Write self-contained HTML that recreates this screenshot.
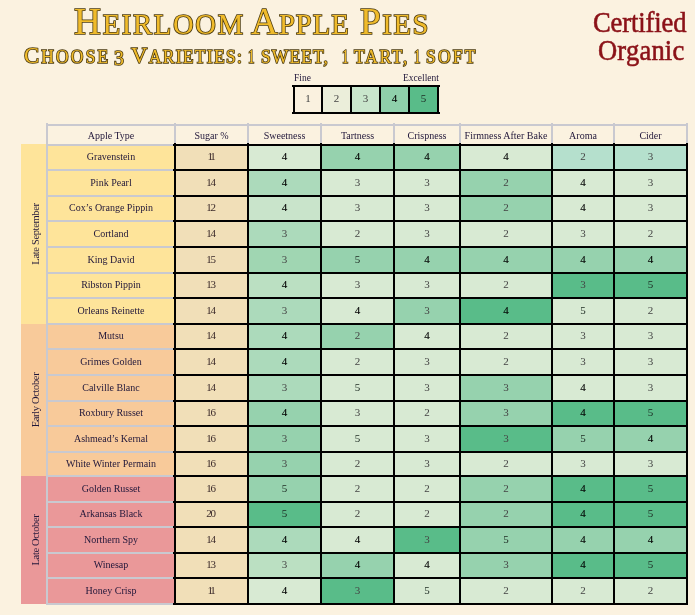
<!DOCTYPE html>
<html lang="en"><head><meta charset="utf-8"><title>Heirloom Apple Pies</title>
<style>
html,body{margin:0;padding:0}
body{width:695px;height:615px;overflow:hidden;background:#fbf2e0;position:relative;font-family:"Liberation Serif",serif;color:#21173a}
div,span{position:absolute;box-sizing:border-box}
.tt{white-space:nowrap;color:#f0bb2b;-webkit-text-stroke:1.6px #4a3a10;paint-order:stroke fill;line-height:40px;transform:scaleX(.97);transform-origin:0 0}
.tt span{position:static}
.co{color:#8b1218;white-space:nowrap;font-size:29.5px;line-height:40px;-webkit-text-stroke:.6px #8b1218;transform:scaleX(.9);transform-origin:0 0}
.lg{font-size:9.5px;line-height:10px;white-space:nowrap}
.c{display:flex;align-items:center;justify-content:center;font-size:10px;line-height:12px;white-space:nowrap;padding-bottom:1px}
.hd{padding-bottom:0;padding-top:2px}
.d{font-size:11px;padding-bottom:3px}
.n{color:#444}
.k{color:#000;-webkit-text-stroke:.1px #000}
.f{color:#1c2a22}
.s{color:#3b2a2a;letter-spacing:-1.2px;padding-right:2px}
.s1{letter-spacing:-2.2px}
.v{background:#000;width:2px}
.h{background:#000;height:2px}
.gv{background:#c9c9d0;width:2px}
.gh{background:#c9c9d0;height:2px}
.gl{display:flex;align-items:center;justify-content:center;white-space:nowrap;font-size:10.5px;line-height:12px;letter-spacing:-.35px;padding-left:4px}
.gl span{position:static;display:block;transform:rotate(-90deg)}

</style></head><body>
<div class="tt" style="left:74.4px;top:1.0px;font-size:29.5px;letter-spacing:1.73px"><span style="font-size:38.5px">H</span>EIRLOOM</div>
<div class="tt" style="left:250.5px;top:1.0px;font-size:29.5px;letter-spacing:1.0px"><span style="font-size:38.5px">A</span>PPLE</div>
<div class="tt" style="left:359.5px;top:1.0px;font-size:29.5px;letter-spacing:1.6px"><span style="font-size:38.5px">P</span>IES</div>
<div class="tt" style="left:23.5px;top:35.0px;font-size:18.0px;letter-spacing:2.24px"><span style="font-size:23.4px">C</span>HOOSE</div>
<div class="tt" style="left:114.4px;top:38.4px;font-size:20.5px">3</div>
<div class="tt" style="left:131.0px;top:35.0px;font-size:18.0px;letter-spacing:1.38px"><span style="font-size:23.4px">V</span>ARIETIES:</div>
<div class="tt" style="left:248.4px;top:37.0px;font-size:18.0px;transform:scaleX(0.72)">1</div>
<div class="tt" style="left:261.4px;top:37.0px;font-size:18.0px;letter-spacing:1.18px">SWEET,</div>
<div class="tt" style="left:341.6px;top:37.0px;font-size:18.0px;transform:scaleX(0.72)">1</div>
<div class="tt" style="left:354.1px;top:37.0px;font-size:18.0px;letter-spacing:1.85px">TART,</div>
<div class="tt" style="left:414.3px;top:37.0px;font-size:18.0px;transform:scaleX(0.72)">1</div>
<div class="tt" style="left:425.8px;top:37.0px;font-size:18.0px;letter-spacing:2.33px">SOFT</div>
<div class="co" id="co1" style="left:593.0px;top:2.3px;letter-spacing:-0.11px">Certified</div>
<div class="co" id="co2" style="left:597.5px;top:30.4px;letter-spacing:0.22px">Organic</div>
<div class="lg" id="lgf" style="left:294px;top:73px">Fine</div>
<div class="lg" id="lge" style="left:403px;top:73px">Excellent</div>
<div class="c d n" style="left:294px;top:86px;width:28px;height:27px;background:#faf1df">1</div>
<div class="c d n" style="left:322px;top:86px;width:29px;height:27px;background:#ebeeda">2</div>
<div class="c d n" style="left:351px;top:86px;width:29px;height:27px;background:#c9e6cc">3</div>
<div class="c d k" style="left:380px;top:86px;width:29px;height:27px;background:#8fd0ab">4</div>
<div class="c d f" style="left:409px;top:86px;width:29px;height:27px;background:#59bc89">5</div>
<div class="v" style="left:293px;top:85px;height:29px"></div>
<div class="v" style="left:321px;top:85px;height:29px"></div>
<div class="v" style="left:350px;top:85px;height:29px"></div>
<div class="v" style="left:379px;top:85px;height:29px"></div>
<div class="v" style="left:408px;top:85px;height:29px"></div>
<div class="v" style="left:437px;top:85px;height:29px"></div>
<div class="h" style="left:292px;top:85px;width:148px"></div>
<div class="h" style="left:292px;top:112px;width:148px"></div>
<div class="gl" style="left:21px;top:144px;width:26px;height:180px;background:#fee49a"><span>Late September</span></div>
<div class="gl" style="left:21px;top:324px;width:26px;height:152px;background:#f8ca9a"><span>Early October</span></div>
<div class="gl" style="left:21px;top:476px;width:26px;height:128px;background:#ea9899"><span>Late October</span></div>
<div class="c hd" style="left:48px;top:126px;width:126px;height:18px">Apple Type</div>
<div class="c hd" style="left:176px;top:126px;width:71px;height:18px">Sugar %</div>
<div class="c hd" style="left:249px;top:126px;width:71px;height:18px">Sweetness</div>
<div class="c hd" style="left:322px;top:126px;width:71px;height:18px">Tartness</div>
<div class="c hd" style="left:395px;top:126px;width:64px;height:18px">Crispness</div>
<div class="c hd" style="left:461px;top:126px;width:90px;height:18px">Firmness After Bake</div>
<div class="c hd" style="left:553px;top:126px;width:60px;height:18px">Aroma</div>
<div class="c hd" style="left:615px;top:126px;width:71px;height:18px">Cider</div>
<div class="c" style="left:47px;top:145px;width:128px;height:25px;background:#fee49a">Gravenstein</div>
<div class="c d s s1" style="left:175px;top:145px;width:73px;height:25px;background:#f1dfb8">11</div>
<div class="c d k" style="left:248px;top:145px;width:73px;height:25px;background:#d8ead3">4</div>
<div class="c d k" style="left:321px;top:145px;width:73px;height:25px;background:#96d2ae">4</div>
<div class="c d k" style="left:394px;top:145px;width:66px;height:25px;background:#96d2ae">4</div>
<div class="c d k" style="left:460px;top:145px;width:92px;height:25px;background:#d8ead3">4</div>
<div class="c d n" style="left:552px;top:145px;width:62px;height:25px;background:#b5e0cd">2</div>
<div class="c d n" style="left:614px;top:145px;width:73px;height:25px;background:#b5e0cd">3</div>
<div class="c" style="left:47px;top:170px;width:128px;height:26px;background:#fee49a">Pink Pearl</div>
<div class="c d s" style="left:175px;top:170px;width:73px;height:26px;background:#f1dfb8">14</div>
<div class="c d k" style="left:248px;top:170px;width:73px;height:26px;background:#acdabb">4</div>
<div class="c d n" style="left:321px;top:170px;width:73px;height:26px;background:#d8ead3">3</div>
<div class="c d n" style="left:394px;top:170px;width:66px;height:26px;background:#d8ead3">3</div>
<div class="c d n" style="left:460px;top:170px;width:92px;height:26px;background:#96d2ae">2</div>
<div class="c d k" style="left:552px;top:170px;width:62px;height:26px;background:#d8ead3">4</div>
<div class="c d n" style="left:614px;top:170px;width:73px;height:26px;background:#d8ead3">3</div>
<div class="c" style="left:47px;top:196px;width:128px;height:25px;background:#fee49a">Cox’s Orange Pippin</div>
<div class="c d s" style="left:175px;top:196px;width:73px;height:25px;background:#f1dfb8">12</div>
<div class="c d k" style="left:248px;top:196px;width:73px;height:25px;background:#c9e4cb">4</div>
<div class="c d n" style="left:321px;top:196px;width:73px;height:25px;background:#d8ead3">3</div>
<div class="c d n" style="left:394px;top:196px;width:66px;height:25px;background:#d8ead3">3</div>
<div class="c d n" style="left:460px;top:196px;width:92px;height:25px;background:#96d2ae">2</div>
<div class="c d k" style="left:552px;top:196px;width:62px;height:25px;background:#d8ead3">4</div>
<div class="c d n" style="left:614px;top:196px;width:73px;height:25px;background:#d8ead3">3</div>
<div class="c" style="left:47px;top:221px;width:128px;height:26px;background:#fee49a">Cortland</div>
<div class="c d s" style="left:175px;top:221px;width:73px;height:26px;background:#f1dfb8">14</div>
<div class="c d n" style="left:248px;top:221px;width:73px;height:26px;background:#acdabb">3</div>
<div class="c d n" style="left:321px;top:221px;width:73px;height:26px;background:#d8ead3">2</div>
<div class="c d n" style="left:394px;top:221px;width:66px;height:26px;background:#d8ead3">3</div>
<div class="c d n" style="left:460px;top:221px;width:92px;height:26px;background:#d8ead3">2</div>
<div class="c d n" style="left:552px;top:221px;width:62px;height:26px;background:#d8ead3">3</div>
<div class="c d n" style="left:614px;top:221px;width:73px;height:26px;background:#d8ead3">2</div>
<div class="c" style="left:47px;top:247px;width:128px;height:26px;background:#fee49a">King David</div>
<div class="c d s" style="left:175px;top:247px;width:73px;height:26px;background:#f1dfb8">15</div>
<div class="c d n" style="left:248px;top:247px;width:73px;height:26px;background:#a0d6b2">3</div>
<div class="c d f" style="left:321px;top:247px;width:73px;height:26px;background:#96d2ae">5</div>
<div class="c d k" style="left:394px;top:247px;width:66px;height:26px;background:#96d2ae">4</div>
<div class="c d k" style="left:460px;top:247px;width:92px;height:26px;background:#96d2ae">4</div>
<div class="c d k" style="left:552px;top:247px;width:62px;height:26px;background:#96d2ae">4</div>
<div class="c d k" style="left:614px;top:247px;width:73px;height:26px;background:#96d2ae">4</div>
<div class="c" style="left:47px;top:273px;width:128px;height:25px;background:#fee49a">Ribston Pippin</div>
<div class="c d s" style="left:175px;top:273px;width:73px;height:25px;background:#f1dfb8">13</div>
<div class="c d k" style="left:248px;top:273px;width:73px;height:25px;background:#bbe0c2">4</div>
<div class="c d n" style="left:321px;top:273px;width:73px;height:25px;background:#d8ead3">3</div>
<div class="c d n" style="left:394px;top:273px;width:66px;height:25px;background:#d8ead3">3</div>
<div class="c d n" style="left:460px;top:273px;width:92px;height:25px;background:#d8ead3">2</div>
<div class="c d n" style="left:552px;top:273px;width:62px;height:25px;background:#59bc89">3</div>
<div class="c d f" style="left:614px;top:273px;width:73px;height:25px;background:#59bc89">5</div>
<div class="c" style="left:47px;top:298px;width:128px;height:26px;background:#fee49a">Orleans Reinette</div>
<div class="c d s" style="left:175px;top:298px;width:73px;height:26px;background:#f1dfb8">14</div>
<div class="c d n" style="left:248px;top:298px;width:73px;height:26px;background:#acdabb">3</div>
<div class="c d k" style="left:321px;top:298px;width:73px;height:26px;background:#d8ead3">4</div>
<div class="c d n" style="left:394px;top:298px;width:66px;height:26px;background:#96d2ae">3</div>
<div class="c d k" style="left:460px;top:298px;width:92px;height:26px;background:#59bc89">4</div>
<div class="c d f" style="left:552px;top:298px;width:62px;height:26px;background:#d8ead3">5</div>
<div class="c d n" style="left:614px;top:298px;width:73px;height:26px;background:#d8ead3">2</div>
<div class="c" style="left:47px;top:324px;width:128px;height:25px;background:#f8ca9a">Mutsu</div>
<div class="c d s" style="left:175px;top:324px;width:73px;height:25px;background:#f1dfb8">14</div>
<div class="c d k" style="left:248px;top:324px;width:73px;height:25px;background:#acdabb">4</div>
<div class="c d n" style="left:321px;top:324px;width:73px;height:25px;background:#96d2ae">2</div>
<div class="c d k" style="left:394px;top:324px;width:66px;height:25px;background:#d8ead3">4</div>
<div class="c d n" style="left:460px;top:324px;width:92px;height:25px;background:#d8ead3">2</div>
<div class="c d n" style="left:552px;top:324px;width:62px;height:25px;background:#d8ead3">3</div>
<div class="c d n" style="left:614px;top:324px;width:73px;height:25px;background:#d8ead3">3</div>
<div class="c" style="left:47px;top:349px;width:128px;height:26px;background:#f8ca9a">Grimes Golden</div>
<div class="c d s" style="left:175px;top:349px;width:73px;height:26px;background:#f1dfb8">14</div>
<div class="c d k" style="left:248px;top:349px;width:73px;height:26px;background:#acdabb">4</div>
<div class="c d n" style="left:321px;top:349px;width:73px;height:26px;background:#d8ead3">2</div>
<div class="c d n" style="left:394px;top:349px;width:66px;height:26px;background:#d8ead3">3</div>
<div class="c d n" style="left:460px;top:349px;width:92px;height:26px;background:#d8ead3">2</div>
<div class="c d n" style="left:552px;top:349px;width:62px;height:26px;background:#d8ead3">3</div>
<div class="c d n" style="left:614px;top:349px;width:73px;height:26px;background:#d8ead3">3</div>
<div class="c" style="left:47px;top:375px;width:128px;height:26px;background:#f8ca9a">Calville Blanc</div>
<div class="c d s" style="left:175px;top:375px;width:73px;height:26px;background:#f1dfb8">14</div>
<div class="c d n" style="left:248px;top:375px;width:73px;height:26px;background:#acdabb">3</div>
<div class="c d f" style="left:321px;top:375px;width:73px;height:26px;background:#d8ead3">5</div>
<div class="c d n" style="left:394px;top:375px;width:66px;height:26px;background:#d8ead3">3</div>
<div class="c d n" style="left:460px;top:375px;width:92px;height:26px;background:#96d2ae">3</div>
<div class="c d k" style="left:552px;top:375px;width:62px;height:26px;background:#d8ead3">4</div>
<div class="c d n" style="left:614px;top:375px;width:73px;height:26px;background:#d8ead3">3</div>
<div class="c" style="left:47px;top:401px;width:128px;height:25px;background:#f8ca9a">Roxbury Russet</div>
<div class="c d s" style="left:175px;top:401px;width:73px;height:25px;background:#f1dfb8">16</div>
<div class="c d k" style="left:248px;top:401px;width:73px;height:25px;background:#96d2ae">4</div>
<div class="c d n" style="left:321px;top:401px;width:73px;height:25px;background:#d8ead3">3</div>
<div class="c d n" style="left:394px;top:401px;width:66px;height:25px;background:#d8ead3">2</div>
<div class="c d n" style="left:460px;top:401px;width:92px;height:25px;background:#96d2ae">3</div>
<div class="c d k" style="left:552px;top:401px;width:62px;height:25px;background:#59bc89">4</div>
<div class="c d f" style="left:614px;top:401px;width:73px;height:25px;background:#59bc89">5</div>
<div class="c" style="left:47px;top:426px;width:128px;height:26px;background:#f8ca9a">Ashmead’s Kernal</div>
<div class="c d s" style="left:175px;top:426px;width:73px;height:26px;background:#f1dfb8">16</div>
<div class="c d n" style="left:248px;top:426px;width:73px;height:26px;background:#96d2ae">3</div>
<div class="c d f" style="left:321px;top:426px;width:73px;height:26px;background:#d8ead3">5</div>
<div class="c d n" style="left:394px;top:426px;width:66px;height:26px;background:#d8ead3">3</div>
<div class="c d n" style="left:460px;top:426px;width:92px;height:26px;background:#59bc89">3</div>
<div class="c d f" style="left:552px;top:426px;width:62px;height:26px;background:#96d2ae">5</div>
<div class="c d k" style="left:614px;top:426px;width:73px;height:26px;background:#96d2ae">4</div>
<div class="c" style="left:47px;top:452px;width:128px;height:24px;background:#f8ca9a">White Winter Permain</div>
<div class="c d s" style="left:175px;top:452px;width:73px;height:24px;background:#f1dfb8">16</div>
<div class="c d n" style="left:248px;top:452px;width:73px;height:24px;background:#96d2ae">3</div>
<div class="c d n" style="left:321px;top:452px;width:73px;height:24px;background:#d8ead3">2</div>
<div class="c d n" style="left:394px;top:452px;width:66px;height:24px;background:#d8ead3">3</div>
<div class="c d n" style="left:460px;top:452px;width:92px;height:24px;background:#d8ead3">2</div>
<div class="c d n" style="left:552px;top:452px;width:62px;height:24px;background:#d8ead3">3</div>
<div class="c d n" style="left:614px;top:452px;width:73px;height:24px;background:#d8ead3">3</div>
<div class="c" style="left:47px;top:476px;width:128px;height:26px;background:#ea9899">Golden Russet</div>
<div class="c d s" style="left:175px;top:476px;width:73px;height:26px;background:#f1dfb8">16</div>
<div class="c d f" style="left:248px;top:476px;width:73px;height:26px;background:#96d2ae">5</div>
<div class="c d n" style="left:321px;top:476px;width:73px;height:26px;background:#d8ead3">2</div>
<div class="c d n" style="left:394px;top:476px;width:66px;height:26px;background:#d8ead3">2</div>
<div class="c d n" style="left:460px;top:476px;width:92px;height:26px;background:#96d2ae">2</div>
<div class="c d k" style="left:552px;top:476px;width:62px;height:26px;background:#59bc89">4</div>
<div class="c d f" style="left:614px;top:476px;width:73px;height:26px;background:#59bc89">5</div>
<div class="c" style="left:47px;top:502px;width:128px;height:25px;background:#ea9899">Arkansas Black</div>
<div class="c d s" style="left:175px;top:502px;width:73px;height:25px;background:#f1dfb8">20</div>
<div class="c d f" style="left:248px;top:502px;width:73px;height:25px;background:#59bc89">5</div>
<div class="c d n" style="left:321px;top:502px;width:73px;height:25px;background:#d8ead3">2</div>
<div class="c d n" style="left:394px;top:502px;width:66px;height:25px;background:#d8ead3">2</div>
<div class="c d n" style="left:460px;top:502px;width:92px;height:25px;background:#96d2ae">2</div>
<div class="c d k" style="left:552px;top:502px;width:62px;height:25px;background:#59bc89">4</div>
<div class="c d f" style="left:614px;top:502px;width:73px;height:25px;background:#59bc89">5</div>
<div class="c" style="left:47px;top:527px;width:128px;height:26px;background:#ea9899">Northern Spy</div>
<div class="c d s" style="left:175px;top:527px;width:73px;height:26px;background:#f1dfb8">14</div>
<div class="c d k" style="left:248px;top:527px;width:73px;height:26px;background:#acdabb">4</div>
<div class="c d k" style="left:321px;top:527px;width:73px;height:26px;background:#d8ead3">4</div>
<div class="c d n" style="left:394px;top:527px;width:66px;height:26px;background:#59bc89">3</div>
<div class="c d f" style="left:460px;top:527px;width:92px;height:26px;background:#96d2ae">5</div>
<div class="c d k" style="left:552px;top:527px;width:62px;height:26px;background:#96d2ae">4</div>
<div class="c d k" style="left:614px;top:527px;width:73px;height:26px;background:#96d2ae">4</div>
<div class="c" style="left:47px;top:553px;width:128px;height:25px;background:#ea9899">Winesap</div>
<div class="c d s" style="left:175px;top:553px;width:73px;height:25px;background:#f1dfb8">13</div>
<div class="c d n" style="left:248px;top:553px;width:73px;height:25px;background:#bbe0c2">3</div>
<div class="c d k" style="left:321px;top:553px;width:73px;height:25px;background:#96d2ae">4</div>
<div class="c d k" style="left:394px;top:553px;width:66px;height:25px;background:#d8ead3">4</div>
<div class="c d n" style="left:460px;top:553px;width:92px;height:25px;background:#96d2ae">3</div>
<div class="c d k" style="left:552px;top:553px;width:62px;height:25px;background:#59bc89">4</div>
<div class="c d f" style="left:614px;top:553px;width:73px;height:25px;background:#59bc89">5</div>
<div class="c" style="left:47px;top:578px;width:128px;height:26px;background:#ea9899">Honey Crisp</div>
<div class="c d s s1" style="left:175px;top:578px;width:73px;height:26px;background:#f1dfb8">11</div>
<div class="c d k" style="left:248px;top:578px;width:73px;height:26px;background:#d8ead3">4</div>
<div class="c d n" style="left:321px;top:578px;width:73px;height:26px;background:#59bc89">3</div>
<div class="c d f" style="left:394px;top:578px;width:66px;height:26px;background:#d8ead3">5</div>
<div class="c d n" style="left:460px;top:578px;width:92px;height:26px;background:#d8ead3">2</div>
<div class="c d n" style="left:552px;top:578px;width:62px;height:26px;background:#d8ead3">2</div>
<div class="c d n" style="left:614px;top:578px;width:73px;height:26px;background:#d8ead3">2</div>
<div class="gh" style="left:46px;top:124px;width:642px"></div>
<div class="gv" style="left:46px;top:123px;height:21px"></div>
<div class="gv" style="left:174px;top:123px;height:21px"></div>
<div class="gv" style="left:247px;top:123px;height:21px"></div>
<div class="gv" style="left:320px;top:123px;height:21px"></div>
<div class="gv" style="left:393px;top:123px;height:21px"></div>
<div class="gv" style="left:459px;top:123px;height:21px"></div>
<div class="gv" style="left:551px;top:123px;height:21px"></div>
<div class="gv" style="left:613px;top:123px;height:21px"></div>
<div class="gv" style="left:686px;top:123px;height:21px"></div>
<div class="gv" style="left:46px;top:144px;height:461px"></div>
<div class="gh" style="left:46px;top:144px;width:128px"></div>
<div class="gh" style="left:46px;top:169px;width:128px"></div>
<div class="gh" style="left:46px;top:195px;width:128px"></div>
<div class="gh" style="left:46px;top:220px;width:128px"></div>
<div class="gh" style="left:46px;top:246px;width:128px"></div>
<div class="gh" style="left:46px;top:272px;width:128px"></div>
<div class="gh" style="left:46px;top:297px;width:128px"></div>
<div class="gh" style="left:46px;top:323px;width:128px"></div>
<div class="gh" style="left:46px;top:348px;width:128px"></div>
<div class="gh" style="left:46px;top:374px;width:128px"></div>
<div class="gh" style="left:46px;top:400px;width:128px"></div>
<div class="gh" style="left:46px;top:425px;width:128px"></div>
<div class="gh" style="left:46px;top:451px;width:128px"></div>
<div class="gh" style="left:46px;top:475px;width:128px"></div>
<div class="gh" style="left:46px;top:501px;width:128px"></div>
<div class="gh" style="left:46px;top:526px;width:128px"></div>
<div class="gh" style="left:46px;top:552px;width:128px"></div>
<div class="gh" style="left:46px;top:577px;width:128px"></div>
<div class="gh" style="left:46px;top:603px;width:128px"></div>
<div class="v" style="left:174px;top:143px;height:462px"></div>
<div class="v" style="left:247px;top:143px;height:462px"></div>
<div class="v" style="left:320px;top:143px;height:462px"></div>
<div class="v" style="left:393px;top:143px;height:462px"></div>
<div class="v" style="left:459px;top:143px;height:462px"></div>
<div class="v" style="left:551px;top:143px;height:462px"></div>
<div class="v" style="left:613px;top:143px;height:462px"></div>
<div class="v" style="left:686px;top:143px;height:462px"></div>
<div class="h" style="left:173px;top:144px;width:515px"></div>
<div class="h" style="left:173px;top:169px;width:515px"></div>
<div class="h" style="left:173px;top:195px;width:515px"></div>
<div class="h" style="left:173px;top:220px;width:515px"></div>
<div class="h" style="left:173px;top:246px;width:515px"></div>
<div class="h" style="left:173px;top:272px;width:515px"></div>
<div class="h" style="left:173px;top:297px;width:515px"></div>
<div class="h" style="left:173px;top:323px;width:515px"></div>
<div class="h" style="left:173px;top:348px;width:515px"></div>
<div class="h" style="left:173px;top:374px;width:515px"></div>
<div class="h" style="left:173px;top:400px;width:515px"></div>
<div class="h" style="left:173px;top:425px;width:515px"></div>
<div class="h" style="left:173px;top:451px;width:515px"></div>
<div class="h" style="left:173px;top:475px;width:515px"></div>
<div class="h" style="left:173px;top:501px;width:515px"></div>
<div class="h" style="left:173px;top:526px;width:515px"></div>
<div class="h" style="left:173px;top:552px;width:515px"></div>
<div class="h" style="left:173px;top:577px;width:515px"></div>
<div class="h" style="left:173px;top:603px;width:515px"></div>
</body></html>
